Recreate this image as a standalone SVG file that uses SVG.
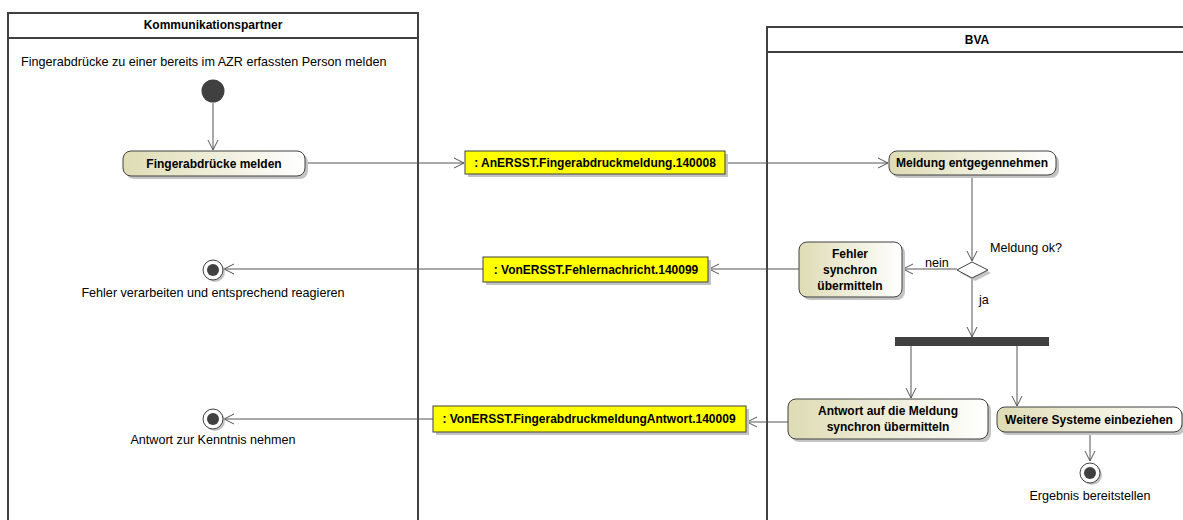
<svg xmlns="http://www.w3.org/2000/svg" width="1183" height="520" viewBox="0 0 1183 520">
<style>
text{font-family:"Liberation Sans",Arial,sans-serif;font-size:12.6px;fill:#000}
.b{font-weight:bold;font-size:12px}
.lane{fill:#fff;stroke:#404040;stroke-width:2}
.act{fill:url(#g);stroke:#404040;stroke-width:1}
.obj{fill:#ffff00;stroke:#404040;stroke-width:1}
.sh{fill:#c4c4c4}
.c{fill:none;stroke:#555;stroke-width:1}
</style>
<defs>
<linearGradient id="g" x1="0" y1="0" x2="1" y2="0">
<stop offset="0" stop-color="#dedcb4"/>
<stop offset="1" stop-color="#ffffff"/>
</linearGradient>
<marker id="a" markerWidth="12" markerHeight="12" refX="10" refY="6" orient="auto" markerUnits="userSpaceOnUse">
<path d="M0,1 L10,6 L0,11" fill="none" stroke="#555" stroke-width="1"/>
</marker>
</defs>
<rect width="1183" height="520" fill="#fff"/>
<g id="lane-kp">
<rect class="lane" x="8" y="13" width="410" height="520"/>
<line x1="8" y1="38" x2="418" y2="38" stroke="#404040" stroke-width="2"/>
<text class="b" x="213" y="29" text-anchor="middle">Kommunikationspartner</text>
<text x="21" y="66">Fingerabdrücke zu einer bereits im AZR erfassten Person melden</text>
</g>
<g id="lane-bva">
<rect class="lane" x="767" y="27" width="430" height="510"/>
<line x1="767" y1="52" x2="1183" y2="52" stroke="#404040" stroke-width="2"/>
<text class="b" x="977" y="44" text-anchor="middle">BVA</text>
</g>
<g id="connectors">
<line class="c" x1="213" y1="103" x2="213" y2="150" marker-end="url(#a)"/>
<line class="c" x1="305" y1="163" x2="464" y2="163" marker-end="url(#a)"/>
<line class="c" x1="725" y1="163" x2="888" y2="163" marker-end="url(#a)"/>
<line class="c" x1="972" y1="175" x2="972" y2="261" marker-end="url(#a)"/>
<line class="c" x1="957" y1="269" x2="903" y2="269" marker-end="url(#a)"/>
<line class="c" x1="799" y1="269" x2="709" y2="269" marker-end="url(#a)"/>
<line class="c" x1="483" y1="269" x2="224" y2="269" marker-end="url(#a)"/>
<line class="c" x1="972" y1="278" x2="972" y2="337" marker-end="url(#a)"/>
<line class="c" x1="911" y1="346" x2="911" y2="398" marker-end="url(#a)"/>
<line class="c" x1="1017" y1="346" x2="1017" y2="406" marker-end="url(#a)"/>
<line class="c" x1="1090" y1="432" x2="1090" y2="461" marker-end="url(#a)"/>
<line class="c" x1="788" y1="422" x2="747" y2="422" marker-end="url(#a)"/>
<line class="c" x1="433" y1="419" x2="224" y2="419" marker-end="url(#a)"/>
<text x="925" y="267">nein</text>
<text x="979" y="304">ja</text>
</g>
<g id="start">
<circle cx="213" cy="91" r="11.5" fill="#404040"/>
</g>
<g id="act-fingerabdruecke">
<rect class="sh" x="126" y="154" width="182" height="25" rx="8"/>
<rect class="act" x="123" y="151" width="182" height="25" rx="8"/>
<text class="b" x="214" y="168" text-anchor="middle">Fingerabdrücke melden</text>
</g>
<g id="obj-an">
<rect class="sh" x="468" y="154" width="260" height="23"/>
<rect class="obj" x="465" y="151" width="260" height="23"/>
<text class="b" x="595" y="167" text-anchor="middle">: AnERSST.Fingerabdruckmeldung.140008</text>
</g>
<g id="act-meldung">
<rect class="sh" x="892" y="154" width="167" height="24" rx="8"/>
<rect class="act" x="889" y="151" width="167" height="24" rx="8"/>
<text class="b" x="972" y="167" text-anchor="middle">Meldung entgegennehmen</text>
</g>
<g id="decision">
<polygon points="975,265 991,273 975,281 960,273" fill="#c4c4c4"/>
<polygon points="972,262 988,270 972,278 957,270" fill="#fff" stroke="#404040" stroke-width="1"/>
<text x="990" y="252">Meldung ok?</text>
</g>
<g id="act-fehler">
<rect class="sh" x="802" y="245" width="103" height="55" rx="8"/>
<rect class="act" x="799" y="242" width="103" height="55" rx="8"/>
<text class="b" x="850" y="258" text-anchor="middle">Fehler</text>
<text class="b" x="850" y="274" text-anchor="middle">synchron</text>
<text class="b" x="850" y="290" text-anchor="middle">übermitteln</text>
</g>
<g id="obj-fehler">
<rect class="sh" x="486" y="260" width="225" height="25"/>
<rect class="obj" x="483" y="257" width="225" height="25"/>
<text class="b" x="596" y="274" text-anchor="middle">: VonERSST.Fehlernachricht.140099</text>
</g>
<g id="end-fehler">
<circle cx="215" cy="272" r="10" fill="#c4c4c4"/>
<circle cx="213" cy="270" r="10" fill="#fff" stroke="#404040" stroke-width="1"/>
<circle cx="213" cy="270" r="6" fill="#404040"/>
<text x="213" y="297" text-anchor="middle">Fehler verarbeiten und entsprechend reagieren</text>
</g>
<g id="fork">
<rect x="895" y="337" width="154" height="9" fill="#404040"/>
</g>
<g id="act-antwort">
<rect class="sh" x="791" y="402" width="200" height="40" rx="8"/>
<rect class="act" x="788" y="399" width="200" height="40" rx="8"/>
<text class="b" x="888" y="415" text-anchor="middle">Antwort auf die Meldung</text>
<text class="b" x="888" y="431" text-anchor="middle">synchron übermitteln</text>
</g>
<g id="act-weitere">
<rect class="sh" x="1000" y="410" width="185" height="25" rx="8"/>
<rect class="act" x="997" y="407" width="185" height="25" rx="8"/>
<text class="b" x="1089" y="424" text-anchor="middle">Weitere Systeme einbeziehen</text>
</g>
<g id="end-ergebnis">
<circle cx="1092" cy="475" r="10" fill="#c4c4c4"/>
<circle cx="1090" cy="473" r="10" fill="#fff" stroke="#404040" stroke-width="1"/>
<circle cx="1090" cy="473" r="6" fill="#404040"/>
<text x="1090" y="500" text-anchor="middle">Ergebnis bereitstellen</text>
</g>
<g id="obj-antwort">
<rect class="sh" x="436" y="409" width="313" height="26"/>
<rect class="obj" x="433" y="406" width="313" height="26"/>
<text class="b" x="589" y="423" text-anchor="middle">: VonERSST.FingerabdruckmeldungAntwort.140009</text>
</g>
<g id="end-antwort">
<circle cx="215" cy="421" r="10" fill="#c4c4c4"/>
<circle cx="213" cy="419" r="10" fill="#fff" stroke="#404040" stroke-width="1"/>
<circle cx="213" cy="419" r="6" fill="#404040"/>
<text x="213" y="444" text-anchor="middle">Antwort zur Kenntnis nehmen</text>
</g>
</svg>
